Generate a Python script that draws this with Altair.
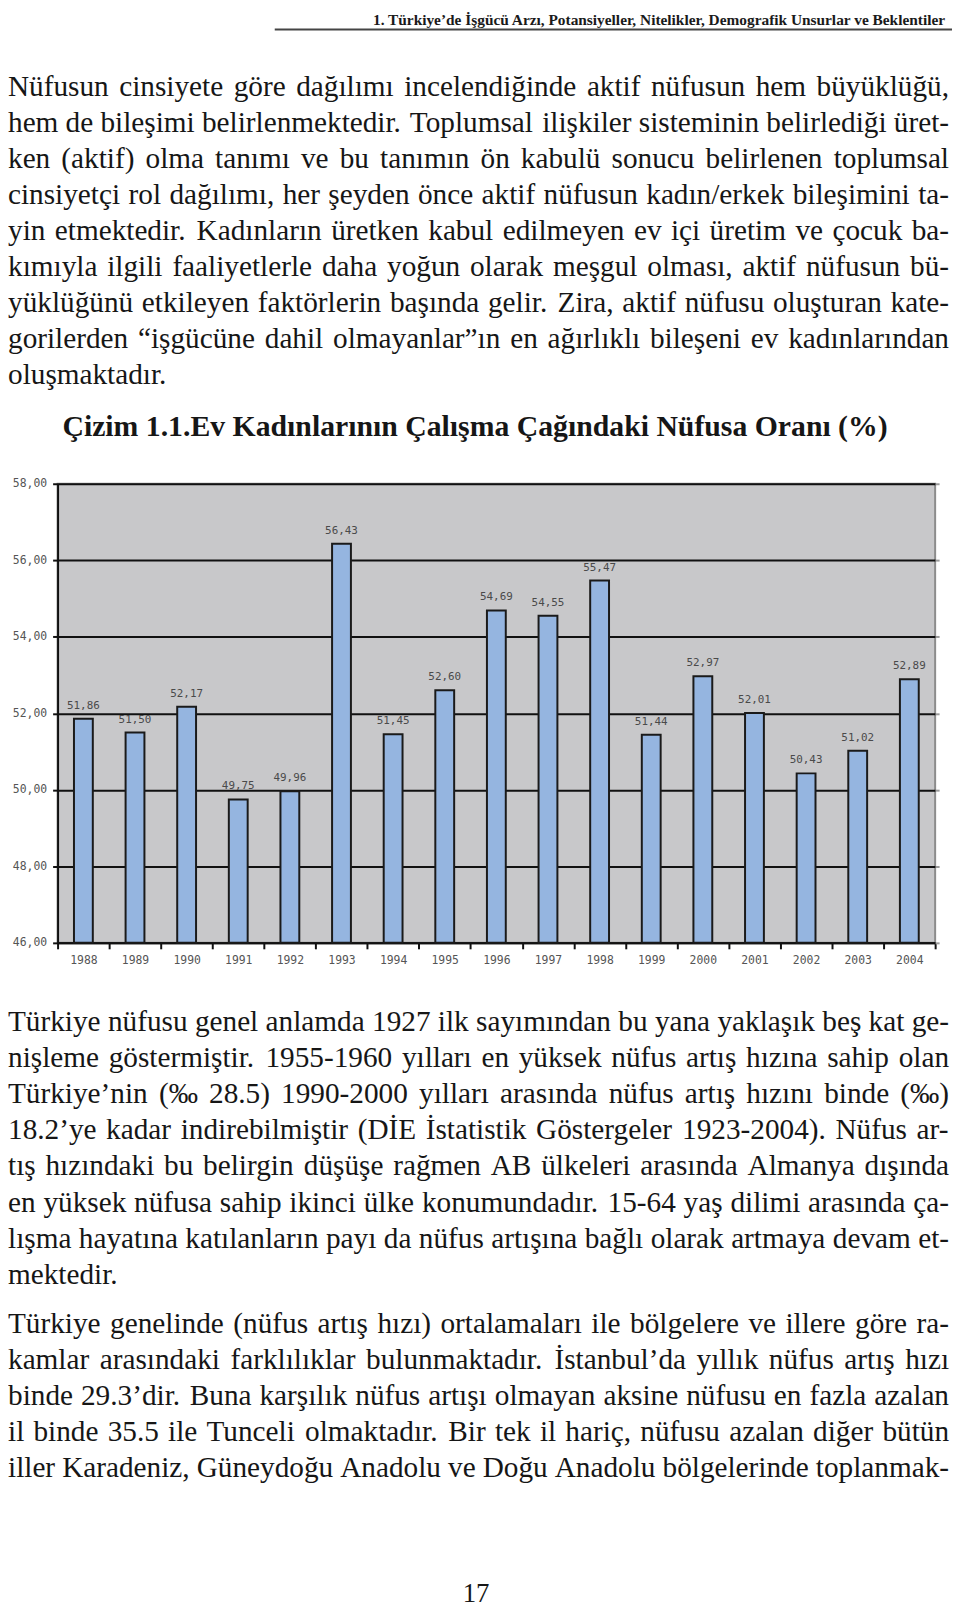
import altair as alt
import pandas as pd

# ---------------- data ----------------
years = [str(y) for y in range(1988, 2005)]
values = [51.86, 51.50, 52.17, 49.75, 49.96, 56.43, 51.45, 52.60, 54.69,
          54.55, 55.47, 51.44, 52.97, 52.01, 50.43, 51.02, 52.89]
y_ticks = [46, 48, 50, 52, 54, 56, 58]

header_text = "1. Türkiye’de İşgücü Arzı, Potansiyeller, Nitelikler, Demografik Unsurlar ve Beklentiler"
title_text = "Çizim 1.1.Ev Kadınlarının Çalışma Çağındaki Nüfusa Oranı (%)"
page_number = "17"

para1 = [
    "Nüfusun cinsiyete göre dağılımı incelendiğinde aktif nüfusun hem büyüklüğü,",
    "hem de bileşimi belirlenmektedir. Toplumsal ilişkiler sisteminin belirlediği üret-",
    "ken (aktif) olma tanımı ve bu tanımın ön kabulü sonucu belirlenen toplumsal",
    "cinsiyetçi rol dağılımı, her şeyden önce aktif nüfusun kadın/erkek bileşimini ta-",
    "yin etmektedir. Kadınların üretken kabul edilmeyen ev içi üretim ve çocuk ba-",
    "kımıyla ilgili faaliyetlerle daha yoğun olarak meşgul olması, aktif nüfusun bü-",
    "yüklüğünü etkileyen faktörlerin başında gelir. Zira, aktif nüfusu oluşturan kate-",
    "gorilerden “işgücüne dahil olmayanlar”ın en ağırlıklı bileşeni ev kadınlarından",
    "oluşmaktadır.",
]
para2 = [
    "Türkiye nüfusu genel anlamda 1927 ilk sayımından bu yana yaklaşık beş kat ge-",
    "nişleme göstermiştir. 1955-1960 yılları en yüksek nüfus artış hızına sahip olan",
    "Türkiye’nin (‰ 28.5) 1990-2000 yılları arasında nüfus artış hızını binde (‰)",
    "18.2’ye kadar indirebilmiştir (DİE İstatistik Göstergeler 1923-2004). Nüfus ar-",
    "tış hızındaki bu belirgin düşüşe rağmen AB ülkeleri arasında Almanya dışında",
    "en yüksek nüfusa sahip ikinci ülke konumundadır. 15-64 yaş dilimi arasında ça-",
    "lışma hayatına katılanların payı da nüfus artışına bağlı olarak artmaya devam et-",
    "mektedir.",
]
para3 = [
    "Türkiye genelinde (nüfus artış hızı) ortalamaları ile bölgelere ve illere göre ra-",
    "kamlar arasındaki farklılıklar bulunmaktadır. İstanbul’da yıllık nüfus artış hızı",
    "binde 29.3’dir. Buna karşılık nüfus artışı olmayan aksine nüfusu en fazla azalan",
    "il binde 35.5 ile Tunceli olmaktadır. Bir tek il hariç, nüfusu azalan diğer bütün",
    "iller Karadeniz, Güneydoğu Anadolu ve Doğu Anadolu bölgelerinde toplanmak-",
]

# ---------------- layout (page pixels) ----------------
PLOT_X0, PLOT_Y0 = 58, 481
PLOT_W, PLOT_H = 885, 463
BODY_FONT = "Liberation Serif"
MONO = "DejaVu Sans Mono"
BODY_SIZE = 29.5
LINE_GAP = 36.4
TEXT_LEFT, TEXT_RIGHT = 8, 957


def px(x):
    return x - PLOT_X0


def py(y):
    return y - PLOT_Y0


# Times / Liberation Serif advance widths (1/1000 em) for justification
TIMES = {
    ' ': 250, '%': 833, '(': 333, ')': 333, ',': 250, '-': 333, '.': 250, '/': 278,
    ':': 278, ';': 278, '’': 333, '‘': 333, '“': 444, '”': 444, '‰': 1000,
    'A': 722, 'B': 667, 'C': 667, 'D': 722, 'E': 611, 'F': 556, 'G': 722, 'H': 722,
    'I': 333, 'J': 389, 'K': 722, 'L': 611, 'M': 889, 'N': 722, 'O': 722, 'P': 556,
    'Q': 722, 'R': 667, 'S': 556, 'T': 611, 'U': 722, 'V': 722, 'W': 944, 'X': 722,
    'Y': 722, 'Z': 611,
    'a': 444, 'b': 500, 'c': 444, 'd': 500, 'e': 444, 'f': 333, 'g': 500, 'h': 500,
    'i': 278, 'j': 278, 'k': 500, 'l': 278, 'm': 778, 'n': 500, 'o': 500, 'p': 500,
    'q': 500, 'r': 333, 's': 389, 't': 278, 'u': 500, 'v': 500, 'w': 722, 'x': 500,
    'y': 500, 'z': 444,
    'ı': 278, 'ş': 389, 'ğ': 500, 'ü': 500, 'ö': 500, 'ç': 444, 'İ': 333, 'Ş': 556,
    'Ğ': 722, 'Ü': 722, 'Ö': 722, 'Ç': 667,
}


def text_width(s, size):
    return sum(TIMES.get(c, 500) for c in s) * size / 1000.0


word_rows = []


def add_paragraph(lines, first_baseline, justify_last=False):
    for i, line in enumerate(lines):
        words = line.split(' ')
        yb = first_baseline + i * LINE_GAP
        natural = sum(text_width(w, BODY_SIZE) for w in words)
        last = i == len(lines) - 1
        if len(words) > 1 and (not last or justify_last):
            gap = max(2.5, (TEXT_RIGHT - TEXT_LEFT - natural) / (len(words) - 1))
        else:
            gap = 250 * BODY_SIZE / 1000.0
        x = TEXT_LEFT
        for w in words:
            word_rows.append({'word': w, 'px': px(x), 'py': py(yb)})
            x += text_width(w, BODY_SIZE) + gap


add_paragraph(para1, 89.5)
add_paragraph(para2, 1033)
add_paragraph(para3, 1337, justify_last=True)
words_df = pd.DataFrame(word_rows)

df = pd.DataFrame({'year': years, 'value': values})
df['label'] = [f"{v:.2f}".replace('.', ',') for v in values]

# ---------------- bar chart ----------------
x_enc = alt.X('year:O', title=None,
              scale=alt.Scale(paddingInner=0, paddingOuter=0),
              axis=alt.Axis(labelAngle=0, tickBand='extent', tickSize=6, tickWidth=2,
                            tickColor='#111111', domainColor='#111111', domainWidth=2,
                            labelFont=MONO, labelFontSize=11.5, labelColor='#555555',
                            labelPadding=6, grid=False))
y_scale = alt.Scale(domain=[46, 58], nice=False, zero=False)
label_expr = "replace(format(datum.value, '.2f'), '.', ',')"

bars = alt.Chart(df).mark_bar(size=19, fill='#95B5E0', stroke='#1a1a1a', strokeWidth=2).encode(
    x=x_enc,
    y=alt.Y('value:Q', title=None, scale=y_scale,
            axis=alt.Axis(values=y_ticks, labelExpr=label_expr, tickSize=5, tickWidth=2,
                          tickColor='#111111', domainColor='#111111', domainWidth=2,
                          grid=True, gridColor='#111111', gridWidth=2, gridOpacity=1,
                          labelFont=MONO, labelFontSize=11.5, labelColor='#555555',
                          labelPadding=6)),
    y2=alt.datum(46),
)

value_labels = alt.Chart(df).mark_text(font=MONO, fontSize=11, color='#4a4a4a',
                                       baseline='bottom', dy=-8).encode(
    x=alt.X('year:O', title=None),
    y=alt.Y('value:Q', title=None, scale=y_scale,
            axis=alt.Axis(orient='right', values=y_ticks, labels=False, domain=False,
                          grid=False, tickSize=4, tickWidth=2, tickColor='#9a9a9a')),
    text='label:N',
)

plot = alt.layer(bars, value_labels).resolve_axis(y='independent')

# ---------------- page text ----------------
body = alt.Chart(words_df).mark_text(align='left', baseline='alphabetic', font=BODY_FONT,
                                     fontSize=BODY_SIZE, color='#161616').encode(
    x=alt.X('px:Q', scale=None, axis=None),
    y=alt.Y('py:Q', scale=None, axis=None),
    text='word:N',
)

header_df = pd.DataFrame({'t': [header_text], 'px': [px(953)], 'py': [py(18)]})
header = alt.Chart(header_df).mark_text(align='right', baseline='alphabetic', font=BODY_FONT,
                                        fontSize=15.5, fontWeight='bold', color='#1a1a1a').encode(
    x=alt.X('px:Q', scale=None, axis=None),
    y=alt.Y('py:Q', scale=None, axis=None),
    text='t:N',
)

rule_df = pd.DataFrame({'x': [px(277)], 'x2': [px(960)], 'y': [py(23)]})
underline = alt.Chart(rule_df).mark_rule(color='#444444', strokeWidth=2).encode(
    x=alt.X('x:Q', scale=None, axis=None),
    x2='x2:Q',
    y=alt.Y('y:Q', scale=None, axis=None),
)

title_df = pd.DataFrame({'t': [title_text], 'px': [px(479)], 'py': [py(433)]})
title = alt.Chart(title_df).mark_text(align='center', baseline='alphabetic', font=BODY_FONT,
                                      fontSize=30, fontWeight='bold', color='#161616').encode(
    x=alt.X('px:Q', scale=None, axis=None),
    y=alt.Y('py:Q', scale=None, axis=None),
    text='t:N',
)

pn_df = pd.DataFrame({'t': [page_number], 'px': [px(480)], 'py': [py(1609)]})
pagenum = alt.Chart(pn_df).mark_text(align='center', baseline='alphabetic', font=BODY_FONT,
                                     fontSize=27, color='#161616').encode(
    x=alt.X('px:Q', scale=None, axis=None),
    y=alt.Y('py:Q', scale=None, axis=None),
    text='t:N',
)

chart = alt.layer(plot, body, header, underline, title, pagenum).resolve_scale(
    x='independent', y='independent'
).properties(
    width=PLOT_W,
    height=PLOT_H,
    autosize=alt.AutoSizeParams(type='none'),
    padding={'left': 50, 'top': 473, 'right': 17, 'bottom': 665},
).configure_view(
    fill='#C8C8CA', stroke='#8C8C8C', strokeWidth=2
)

chart.save("out.html", embed_options={"renderer": "svg", "actions": False})
